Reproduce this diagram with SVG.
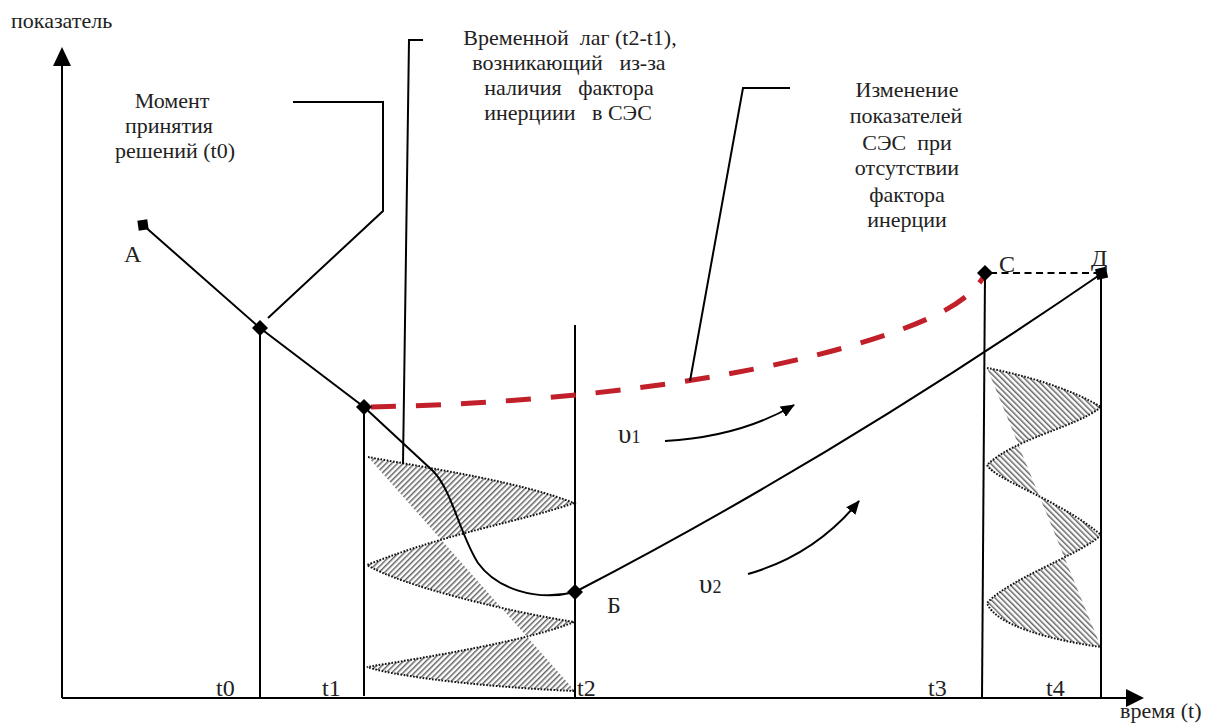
<svg xmlns="http://www.w3.org/2000/svg" width="1206" height="726" viewBox="0 0 1206 726">
<style>
text{font-family:"Liberation Serif","Times New Roman",serif;fill:#222;white-space:pre}
.cap{font-size:22px;text-anchor:middle}
.ax{font-size:22px}
.tl{font-size:24px}
.pt{font-size:24px}
.ln{fill:none;stroke:#000;stroke-width:2}
.dot{fill:none;stroke:#111;stroke-width:2;stroke-dasharray:1.6 1.6}
.mk{fill:#000}
</style>
<defs>
<pattern id="hL" patternUnits="userSpaceOnUse" width="4" height="4" patternTransform="rotate(45)">
<rect x="0" y="0" width="1.5" height="4" fill="#666"/>
</pattern>
<pattern id="hR" patternUnits="userSpaceOnUse" width="4" height="4" patternTransform="rotate(-45)">
<rect x="0" y="0" width="1.5" height="4" fill="#666"/>
</pattern>
<marker id="ah" markerWidth="14" markerHeight="12" refX="13" refY="6" orient="auto" markerUnits="userSpaceOnUse" viewBox="0 0 14 12">
<path d="M0,0 L14,6 L0,12 Z" fill="#000"/>
</marker>
</defs>

<g id="axes">
<line class="ln" x1="62" y1="64" x2="62" y2="698"/>
<path d="M53,66 L62,47 L71,66 Z" fill="#000"/>
<line class="ln" x1="62" y1="698" x2="1128" y2="698"/>
<path d="M1126,689 L1144,698 L1126,707 Z" fill="#000"/>
<text class="ax" x="11" y="28">показатель</text>
<text class="ax" x="1120" y="718">время (t)</text>
</g>

<g id="hatch-left">
<path d="M368,457 C440,470 520,482 574,503 C520,522 450,532 367,565 C400,585 500,610 574,622 C530,640 440,655 367,667 C400,678 500,688 575,691 L368,457 Z" fill="url(#hL)"/>
<path class="dot" d="M368,457 C440,470 520,482 574,503 C520,522 450,532 367,565 C400,585 500,610 574,622 C530,640 440,655 367,667 C400,678 500,688 575,691"/>
</g>

<g id="hatch-right">
<path d="M987,368 C1020,374 1070,388 1101,407 C1075,428 1015,438 987,465 C995,480 1060,500 1101,535 C1080,555 1010,578 987,603 C995,625 1050,640 1101,647 L987,368 Z" fill="url(#hR)"/>
<path class="dot" d="M987,368 C1020,374 1070,388 1101,407 C1075,428 1015,438 987,465 C995,480 1060,500 1101,535 C1080,555 1010,578 987,603 C995,625 1050,640 1101,647"/>
</g>

<g id="connectors">
<line class="ln" x1="260" y1="328" x2="260" y2="698"/>
<line class="ln" x1="364" y1="407" x2="364" y2="696"/>
<line class="ln" x1="575" y1="325" x2="575" y2="698"/>
<line class="ln" x1="985" y1="273" x2="982" y2="698"/>
<line class="ln" x1="1101" y1="274" x2="1101" y2="698"/>
<polyline class="ln" points="143,225 260,328 364,407"/>
<path class="ln" d="M364,407 L433,471 C452,490 460,535 478,563 C496,588 535,602 575,592"/>
<path class="ln" d="M575,592 Q830,460 1101,274"/>
<line x1="990" y1="273" x2="1097" y2="273" stroke="#000" stroke-width="2" stroke-dasharray="7 4.5"/>
<path d="M371,407 C560,403 760,380 900,330 C940,315 970,300 984,276" fill="none" stroke="#c1202a" stroke-width="5" stroke-dasharray="25 20"/>
<path class="ln" d="M665,441 Q740,437 794,405" marker-end="url(#ah)"/>
<path class="ln" d="M748,574 Q815,555 859,501" marker-end="url(#ah)"/>
<polyline class="ln" points="293,102 383,102 383,211 268,318"/>
<polyline class="ln" points="423,40 409,40 403,464"/>
<polyline class="ln" points="790,88 743,88 690,381"/>
</g>

<g id="markers">
<rect class="mk" x="138" y="220" width="10" height="10" transform="rotate(-8 143 225)"/>
<path class="mk" d="M260,320 L268,328 L260,336 L252,328 Z"/>
<path class="mk" d="M364,399 L372,407 L364,415 L356,407 Z"/>
<path class="mk" d="M575,584 L583,592 L575,600 L567,592 Z"/>
<path class="mk" d="M985,265 L993,273 L985,281 L977,273 Z"/>
<rect class="mk" x="1096" y="268" width="11" height="11" transform="rotate(-12 1101 273)"/>
</g>

<g id="label-moment">
<text class="cap" x="172" y="108">Момент</text>
<text class="cap" x="169" y="133">принятия</text>
<text class="cap" x="175" y="158">решений (t0)</text>
</g>

<g id="label-lag">
<text class="cap" x="570" y="45">Временной  лаг (t2-t1),</text>
<text class="cap" x="569" y="70">возникающий   из-за</text>
<text class="cap" x="569" y="95">наличия   фактора</text>
<text class="cap" x="568" y="120">инерциии   в СЭС</text>
</g>

<g id="label-change">
<text class="cap" x="907" y="97">Изменение</text>
<text class="cap" x="906" y="123">показателей</text>
<text class="cap" x="907" y="150">СЭС  при</text>
<text class="cap" x="907" y="175">отсутствии</text>
<text class="cap" x="907" y="202">фактора</text>
<text class="cap" x="907" y="227">инерции</text>
</g>

<g id="points">
<text class="pt" x="124" y="262">А</text>
<text class="pt" x="607" y="613">Б</text>
<text class="pt" x="999" y="272">С</text>
<text class="pt" x="1091" y="266">Д</text>
</g>

<g id="velocities">
<text x="618" y="443" font-size="27">υ<tspan font-size="18">1</tspan></text>
<text x="699" y="593" font-size="27">υ<tspan font-size="18">2</tspan></text>
</g>

<g id="time-labels">
<text class="tl" x="216" y="696">t0</text>
<text class="tl" x="322" y="696">t1</text>
<text class="tl" x="577" y="696">t2</text>
<text class="tl" x="928" y="696">t3</text>
<text class="tl" x="1046" y="696">t4</text>
</g>
</svg>
